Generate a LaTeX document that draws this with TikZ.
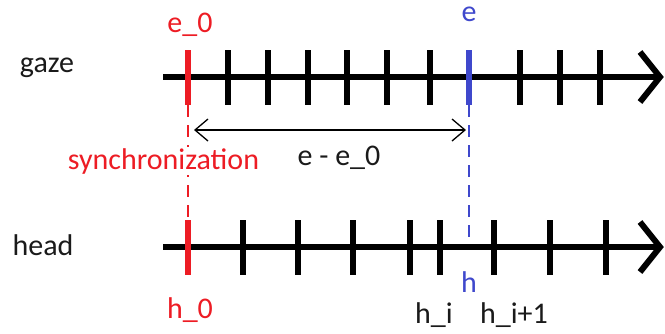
\documentclass[tikz,border=0pt]{standalone}
\usepackage{fontspec}
\setmainfont{Carlito}
\usetikzlibrary{arrows.meta}
\definecolor{pred}{HTML}{ED1C24}
\definecolor{pblue}{HTML}{3F48CC}
\definecolor{ink}{HTML}{1A1A1A}
\tikzset{
  axis/.style={line width=6pt, black},
  tick/.style={line width=6pt, black},
  redtick/.style={line width=6pt, pred},
  bluetick/.style={line width=6pt, pblue},
  guide/.style={line width=1.4pt, dash pattern=on 12pt off 8pt},
  lbl/.style={font=\fontsize{30}{33}\selectfont, anchor=base, inner sep=0pt, text=ink},
  span/.style={line width=1.3pt, {Straight Barb[length=13pt,width=22pt,line width=1.3pt]}-{Straight Barb[length=13pt,width=22pt,line width=1.3pt]}}
}
\begin{document}
\begin{tikzpicture}[x=1pt,y=-1pt]
\useasboundingbox (0,0) rectangle (665,333);
% guide lines (behind)
\coordinate (e0bot) at (188,105);
\coordinate (h0top) at (188,221);
\coordinate (ebot) at (469,105);
\coordinate (hax) at (469,246);
\draw[guide, pred] (e0bot) -- (h0top);
\draw[guide, pblue] (ebot) -- (hax);
% gaze axis
\coordinate (gs) at (163,77);
\coordinate (ge) at (660,77);
\draw[axis] (gs) -- (ge);
\draw[axis, line join=miter] (640,52) -- (ge) -- (640,102);
\foreach \x in {228,268,308,347,387,430,520,560,600}
  \draw[tick] (\x,50) -- (\x,105);
\draw[redtick] (188,50) -- (188,105);
\draw[bluetick] (469,50) -- (469,105);
% head axis
\coordinate (hs) at (163,247);
\coordinate (he) at (660,247);
\draw[axis] (hs) -- (he);
\draw[axis, line join=miter] (640,222) -- (he) -- (640,272);
\foreach \x in {243,298,353,410,440,494,550,606}
  \draw[tick] (\x,220) -- (\x,275);
\draw[redtick] (188,220) -- (188,275);
% span arrow
\coordinate (sa) at (194,130);
\coordinate (sb) at (466,130);
\draw[span] (sa) -- (sb);
% labels
\node[lbl] (gaze) at (47,72) {gaze};
\node[lbl] (head) at (43,255) {head};
\node[lbl, text=pred] (e0) at (190,32) {e\_0};
\node[lbl, text=pblue] (e) at (469,21) {e};
\node[lbl, text=pred, fill=white, inner sep=1pt] (sync) at (163.5,169) {synchronization};
\node[lbl] (diff) at (339,165) {e - e\_0};
\node[lbl, text=pblue] (h) at (469,292) {h};
\node[lbl, text=pred] (h0) at (190,318) {h\_0};
\node[lbl] (hi) at (434,323) {h\_i};
\node[lbl] (hi1) at (514,323) {h\_i+1};
\end{tikzpicture}
\end{document}
